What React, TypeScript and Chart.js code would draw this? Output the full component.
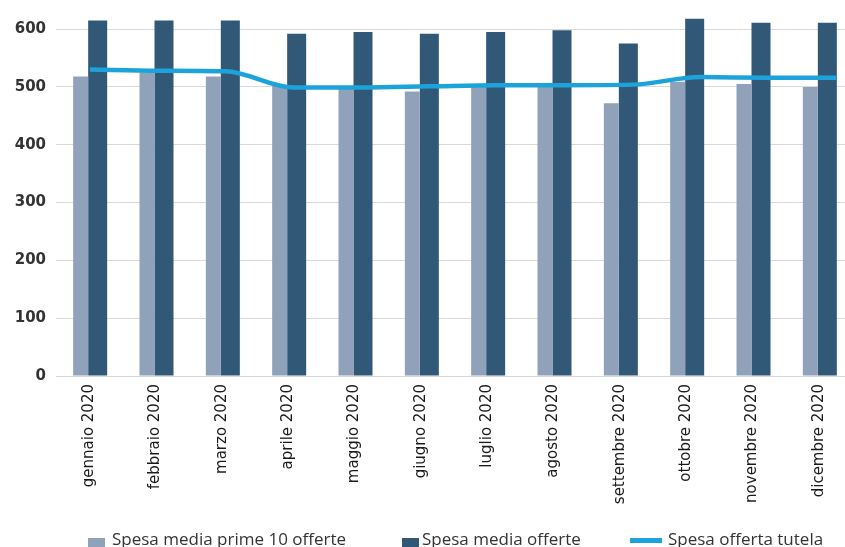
import React, { useEffect, useLayoutEffect, useRef } from "react";
import { Chart, registerables } from "chart.js";

Chart.register(...registerables);

// Months of 2020
const months: string[] = [
  "gennaio 2020",
  "febbraio 2020",
  "marzo 2020",
  "aprile 2020",
  "maggio 2020",
  "giugno 2020",
  "luglio 2020",
  "agosto 2020",
  "settembre 2020",
  "ottobre 2020",
  "novembre 2020",
  "dicembre 2020",
];

// Average spend, first 10 offers (€)
const spesaPrime10: number[] = [518, 525, 518, 502, 498, 492, 500, 500, 472, 509, 505, 500];

// Average spend, all offers (€)
const spesaOfferte: number[] = [615, 615, 615, 592, 595, 592, 595, 598, 575, 618, 611, 611];

// Spend for the protected-market offer (€)
const spesaTutela: number[] = [530, 528, 527, 499, 499, 501, 503, 503, 504, 517, 516, 516];

const yTicks: number[] = [0, 100, 200, 300, 400, 500, 600];

const seriesNames = {
  prime10: "Spesa media prime 10 offerte",
  offerte: "Spesa media offerte",
  tutela: "Spesa offerta tutela",
};

const COLOR_LIGHT = "#8FA2BA";
const COLOR_DARK = "#325878";
const COLOR_LINE = "#1DA3DB";

export default function App() {
  const canvasRef = useRef<HTMLCanvasElement | null>(null);

  useLayoutEffect(() => {
    document.body.style.margin = "0";
  }, []);

  useEffect(() => {
    const canvas = canvasRef.current;
    if (!canvas) return;

    const chart = new Chart(canvas, {
      type: "bar",
      data: {
        labels: months,
        datasets: [
          {
            type: "line",
            label: seriesNames.tutela,
            data: spesaTutela.map((v, i) => ({ x: i, y: v })),
            xAxisID: "xl",
            borderColor: COLOR_LINE,
            backgroundColor: COLOR_LINE,
            borderWidth: 4.5,
            pointRadius: 0,
            cubicInterpolationMode: "monotone",
            borderJoinStyle: "round",
            order: 0,
          } as any,
          {
            type: "bar",
            label: seriesNames.prime10,
            data: spesaPrime10,
            backgroundColor: COLOR_LIGHT,
            categoryPercentage: 1.025,
            barPercentage: 0.882,
            order: 1,
          },
          {
            type: "bar",
            label: seriesNames.offerte,
            data: spesaOfferte,
            backgroundColor: COLOR_DARK,
            categoryPercentage: 1.025,
            barPercentage: 1.118,
            order: 1,
          },
        ],
      },
      options: {
        responsive: false,
        animation: false,
        devicePixelRatio: 1,
        layout: { padding: { left: 14, top: 6, right: 0, bottom: 0 } },
        plugins: {
          legend: { display: false },
          tooltip: { enabled: false },
        },
        scales: {
          x: {
            type: "category",
            offset: true,
            grid: { display: false, drawTicks: false },
            border: { display: true, color: "#D6D6D6", width: 1 },
            ticks: {
              minRotation: 90,
              maxRotation: 90,
              autoSkip: false,
              padding: 8,
              color: "#1a1a1a",
              font: { family: "DejaVu Sans", size: 15 },
            },
            afterFit: (scale: any) => {
              scale.height = 171;
              scale.paddingLeft = 0;
              scale.paddingRight = 0;
            },
          },
          xl: {
            type: "linear",
            display: false,
            min: -0.5,
            max: 11.23,
            offset: false,
          },
          y: {
            min: 0,
            max: 640,
            grid: { color: "#D9D9D9", lineWidth: 1, drawTicks: false },
            border: { display: false },
            afterBuildTicks: (scale: any) => {
              scale.ticks = yTicks.map((v) => ({ value: v }));
            },
            ticks: {
              stepSize: 100,
              includeBounds: false,
              padding: 10,
              color: "#333",
              font: { family: "DejaVu Sans", size: 15, weight: "bold" },
            },
            afterFit: (scale: any) => {
              scale.width = 42;
              scale.paddingTop = 0;
              scale.paddingBottom = 0;
            },
          },
        },
      },
    });

    return () => chart.destroy();
  }, []);

  const legendText: React.CSSProperties = {
    position: "absolute",
    top: 530,
    fontFamily: "'Open Sans', sans-serif",
    fontSize: 17,
    lineHeight: "17px",
    color: "#333",
    whiteSpace: "nowrap",
  };
  const swatch = (left: number, color: string): React.CSSProperties => ({
    position: "absolute",
    left,
    top: 538,
    width: 17,
    height: 17,
    background: color,
  });

  return (
    <div
      style={{
        position: "relative",
        width: 845,
        height: 547,
        overflow: "hidden",
        background: "#fff",
      }}
    >
      <canvas ref={canvasRef} width={852} height={547} style={{ display: "block" }} />
      <div style={swatch(88, COLOR_LIGHT)} />
      <div style={{ ...legendText, left: 112 }}>{seriesNames.prime10}</div>
      <div style={swatch(402, COLOR_DARK)} />
      <div style={{ ...legendText, left: 422 }}>{seriesNames.offerte}</div>
      <div
        style={{
          position: "absolute",
          left: 630,
          top: 538,
          width: 32,
          height: 5,
          background: COLOR_LINE,
        }}
      />
      <div style={{ ...legendText, left: 668 }}>{seriesNames.tutela}</div>
    </div>
  );
}
